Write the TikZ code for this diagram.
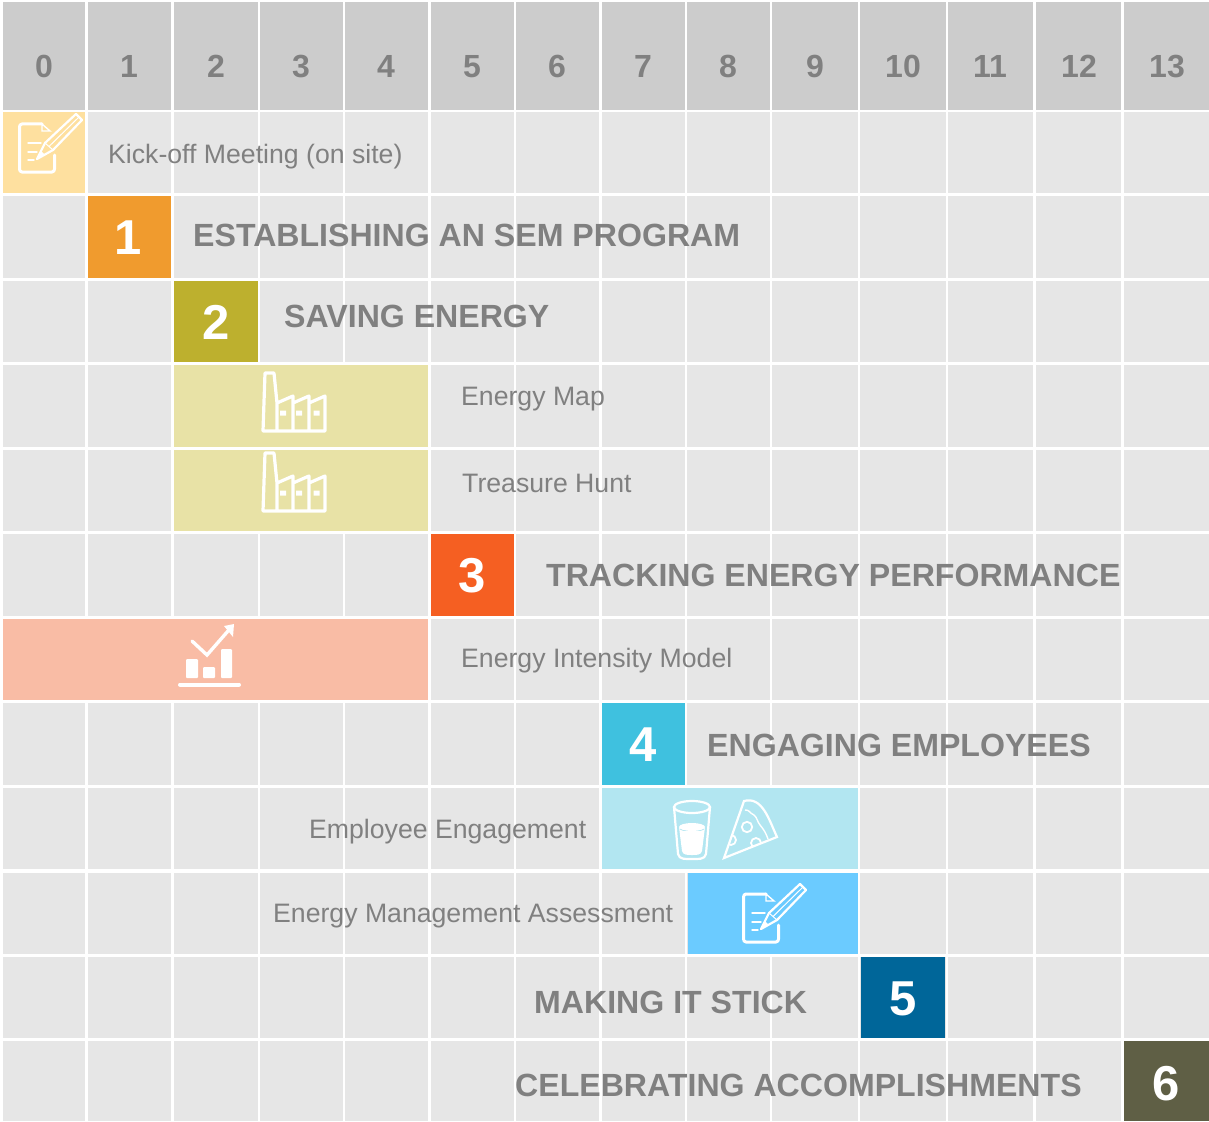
\documentclass[tikz,border=0pt]{standalone}
\usepackage{fontspec}
\setmainfont{Liberation Sans}
\definecolor{hdr}{HTML}{CCCCCC}
\definecolor{cellc}{HTML}{E6E6E6}
\definecolor{txt}{HTML}{808080}
\definecolor{cyellow}{HTML}{FEE09F}
\definecolor{corange}{HTML}{F09B2E}
\definecolor{colive}{HTML}{BDB02E}
\definecolor{cpaleolive}{HTML}{E8E2A6}
\definecolor{cred}{HTML}{F55F22}
\definecolor{csalmon}{HTML}{F9BCA5}
\definecolor{ccyan}{HTML}{3FC1DF}
\definecolor{cpalecyan}{HTML}{B2E6F1}
\definecolor{csky}{HTML}{6BCBFF}
\definecolor{cblue}{HTML}{006699}
\definecolor{cdark}{HTML}{5F5F45}
\tikzset{
 x=1pt,y=-1pt,
 hdigit/.style={font=\fontsize{32}{32}\selectfont\bfseries,text=txt,inner sep=0pt},
 bigdigit/.style={font=\fontsize{49}{49}\selectfont\bfseries,text=white,inner sep=0pt},
 tasklabel/.style={font=\fontsize{32.1}{32}\selectfont\bfseries,text=txt,inner sep=0pt,anchor=base west},
 sublabel/.style={font=\fontsize{26.65}{27}\selectfont,text=txt,inner sep=0pt,anchor=base west},
 ico/.style={draw=white,line width=3.2pt,line join=round,line cap=round},
 icothin/.style={draw=white,line width=1.4pt,line cap=round},
 pics/docicon/.style={code={
  \draw[draw=white,line width=3pt,line join=round,line cap=round] (42,124) -- (22,124) to[out=180,in=90] (19.5,127) -- (19.5,169) to[out=-90,in=180] (22,172) -- (52,172) to[out=0,in=-90] (54.5,169) -- (54.5,155);
  \draw[icothin] (42,124) -- (42,131) -- (50,131) -- cycle;
  \draw[icothin] (28,143) -- (41,143) (28,152) -- (37,152) (28,160) -- (34,160);
  \draw[draw=white,line width=2.2pt,line join=round] (37,159) -- (45,143) -- (76,114) -- (82,120) -- (53,150) -- cycle;
  \draw[draw=white,line width=1pt] (45,143) -- (53,150) (49,146.5) -- (79,117);
  \fill[white] (36,160) -- (41,151) -- (45,155) -- cycle;
 }},
 pics/factory/.style={code={
  \draw[ico] (263,431) -- (265,373) -- (274,373) -- (277,403) -- (293,396) -- (293,431) (293,403) -- (309,396) -- (309,431) (309,403) -- (325,396) -- (325,431) -- (263,431) (277,403) -- (277,431);
  \fill[white] (280,410.5) rectangle (286,415.5) (296,410.5) rectangle (302,415.5) (313.5,410.5) rectangle (319.5,415.5);
 }},
}
\newcommand{\block}[6]{\node[fill=#6,inner sep=0pt,minimum width={(#4)-(#2)},minimum height={(#5)-(#3)}] (#1) at ({(#2+#4)/2},{(#3+#5)/2}) {};}
\begin{document}
\begin{tikzpicture}
\useasboundingbox (0,0) rectangle (1209,1121);
\fill[white] (0,0) rectangle (1209,1121);
% grid
\foreach \xa/\xb in {3/85,88/171,174/258,260/343,345/428,431/514,516/599,602/685,687/770,772/858,860/946,948/1033,1036/1121,1124/1209}{
  \fill[hdr] (\xa,2) rectangle (\xb,110);
  \foreach \ya/\yb in {112/193,196/278,281/362,365/447,450/531,534/616,619/700,703/785,788/869,873/954,957/1038,1041/1121}{
    \fill[cellc] (\xa,\ya) rectangle (\xb,\yb);
  }
}
% header digits
\foreach \n/\cx in {0/44,1/129,2/216,3/301,4/386,5/472,6/557,7/643,8/728,9/815,10/903,11/990,12/1079,13/1167}{
  \node[hdigit] (h\n) at (\cx,66.5) {\n};
}
% coloured blocks
\block{kick}{3}{112}{85}{193}{cyellow}
\block{one}{88}{196}{171}{278}{corange}
\block{two}{174}{281}{258}{362}{colive}
\block{emap}{174}{365}{428}{447}{cpaleolive}
\block{hunt}{174}{450}{428}{531}{cpaleolive}
\block{three}{431}{534}{514}{616}{cred}
\block{model}{3}{619}{428}{700}{csalmon}
\block{four}{602}{703}{685}{785}{ccyan}
\block{engage}{602}{788}{858}{869}{cpalecyan}
\block{assess}{688}{873}{858}{954}{csky}
\block{five}{861}{957}{945}{1038}{cblue}
\block{six}{1124}{1041}{1209}{1121}{cdark}
% step numbers
\node[bigdigit] (d1) at (128,238) {1};
\node[bigdigit] (d2) at (216,322) {2};
\node[bigdigit] (d3) at (472,576) {3};
\node[bigdigit] (d4) at (643,744.5) {4};
\node[bigdigit] (d5) at (903,998.5) {5};
\node[bigdigit] (d6) at (1166,1084) {6};
% labels
\node[sublabel] (lkick) at (108,163) {Kick-off Meeting (on site)};
\node[tasklabel] (lone) at (193,246) {ESTABLISHING AN SEM PROGRAM};
\node[tasklabel] (ltwo) at (284,327) {SAVING ENERGY};
\node[sublabel] (lmap) at (461,405) {Energy Map};
\node[sublabel] (lhunt) at (462,492) {Treasure Hunt};
\node[tasklabel] (lthree) at (546,586) {TRACKING ENERGY PERFORMANCE};
\node[sublabel] (lmodel) at (461,667) {Energy Intensity Model};
\node[tasklabel] (lfour) at (707,756) {ENGAGING EMPLOYEES};
\node[sublabel] (lengage) at (309,838) {Employee Engagement};
\node[sublabel] (lassess) at (273,922) {Energy Management Assessment};
\node[tasklabel] (lfive) at (534,1013) {MAKING IT STICK};
\node[tasklabel] (lsix) at (515,1096) {CELEBRATING ACCOMPLISHMENTS};
% icons
\pic at (0,0) {docicon};
\pic at (724,770) {docicon};
\pic at (0,0) {factory};
\pic at (0,80) {factory};
% chart icon
\fill[white,rounded corners=1pt] (186,659) rectangle (198,678) (203,667) rectangle (215,678) (221,649) rectangle (232,678);
\draw[draw=white,line width=4pt,line cap=round] (180,684.5) -- (239,684.5);
\draw[draw=white,line width=3.4pt,line cap=round,line join=miter] (192,641) -- (207,655) -- (228,631);
\fill[white] (234,624) -- (224,626) -- (233,637) -- cycle;
% glass
\draw[draw=white,line width=2.2pt] (692,807) ellipse [x radius=18,y radius=6];
\draw[draw=white,line width=2.2pt,line join=round] (674,807) -- (678,854) to[out=-80,in=180] (692,859) to[out=0,in=-100] (706,854) -- (710,807);
\fill[white] (679,827) to[out=-90,in=180] (692,831) to[out=0,in=-90] (705,827) -- (702,851) to[out=-100,in=0] (692,855) to[out=180,in=-80] (682,851) -- cycle;
\fill[white] (692,827) ellipse [x radius=13,y radius=4];
% pizza
\begin{scope}
\clip (724,858) -- (744,801) to[out=15,in=115] (777,837) -- cycle;
\draw[draw=white,line width=1.8pt] (731,840) circle (5) (756,843) circle (5);
\end{scope}
\draw[draw=white,line width=2.2pt,line join=miter] (724,858) -- (744,801) to[out=15,in=115] (777,837) -- cycle;
\draw[draw=white,line width=1.4pt] (745,810) to[out=10,in=160] (754,815) to[out=-40,in=130] (760,825) to[out=-50,in=110] (768,839);
\draw[draw=white,line width=1.8pt] (747,827) circle (5.2);
\end{tikzpicture}
\end{document}
